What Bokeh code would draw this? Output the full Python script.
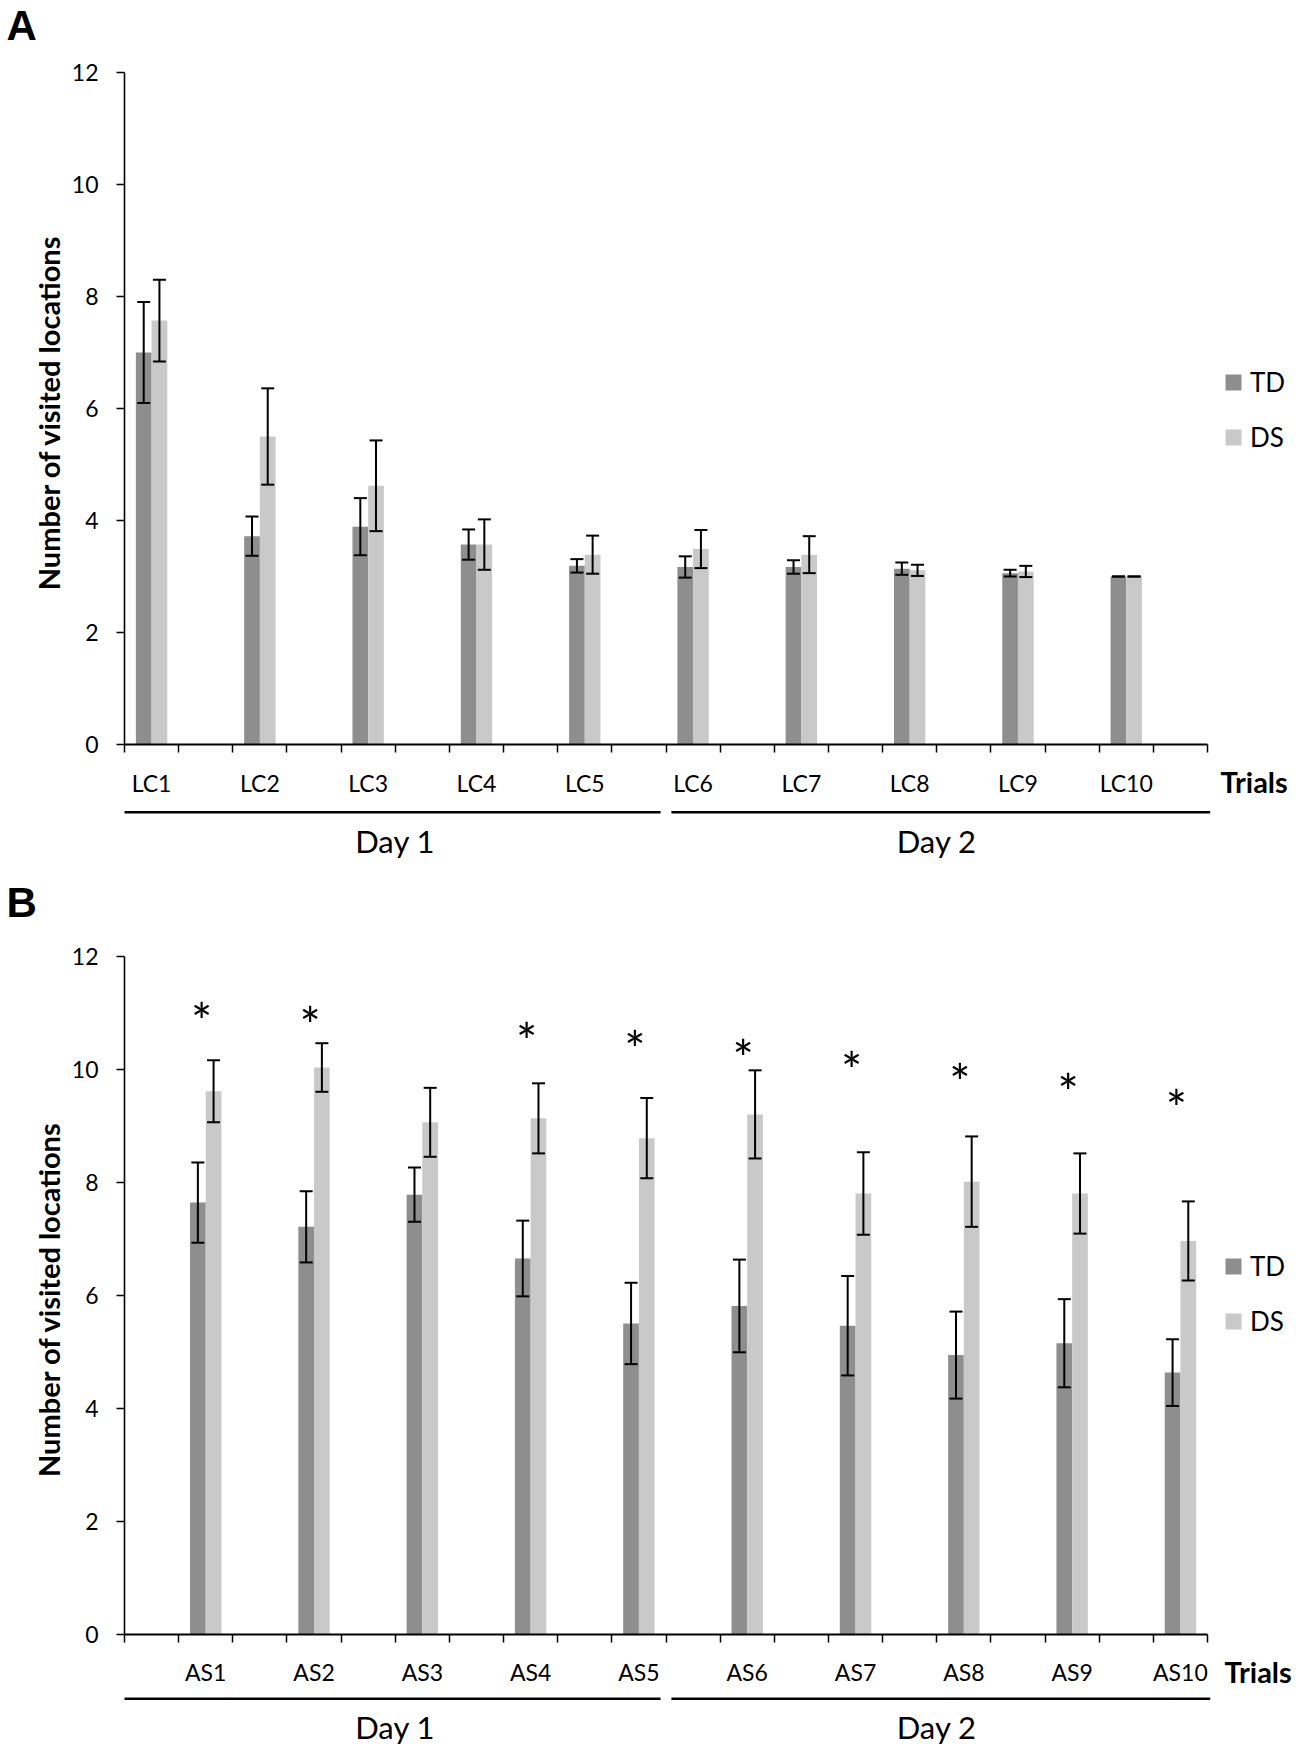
import math
from bokeh.plotting import figure
from bokeh.models import (Range1d, FixedTicker, Whisker, TeeHead, ColumnDataSource,
                          Label, Arrow, Legend, LegendItem)
from bokeh.layouts import column
from bokeh.embed import file_html
from bokeh.resources import INLINE
from bokeh.core.properties import value

# ---------------- data ----------------
series = ["TD", "DS"]
days = ["Day 1", "Day 2"]
trials_per_day = [5, 5]

lc_trials = ["LC1", "LC2", "LC3", "LC4", "LC5", "LC6", "LC7", "LC8", "LC9", "LC10"]
lc_td = [7.00, 3.72, 3.89, 3.57, 3.19, 3.17, 3.17, 3.14, 3.06, 3.00]
lc_td_err = [0.90, 0.35, 0.51, 0.27, 0.12, 0.19, 0.12, 0.11, 0.06, 0.00]
lc_ds = [7.57, 5.50, 4.62, 3.57, 3.39, 3.49, 3.39, 3.11, 3.09, 3.00]
lc_ds_err = [0.73, 0.86, 0.81, 0.45, 0.34, 0.34, 0.33, 0.10, 0.10, 0.00]

as_trials = ["AS1", "AS2", "AS3", "AS4", "AS5", "AS6", "AS7", "AS8", "AS9", "AS10"]
as_td = [7.64, 7.21, 7.78, 6.65, 5.50, 5.81, 5.46, 4.94, 5.15, 4.63]
as_td_err = [0.71, 0.63, 0.48, 0.67, 0.72, 0.82, 0.88, 0.77, 0.78, 0.59]
as_ds = [9.61, 10.03, 9.06, 9.13, 8.78, 9.20, 7.80, 8.01, 7.80, 6.96]
as_ds_err = [0.55, 0.43, 0.61, 0.62, 0.71, 0.78, 0.73, 0.80, 0.71, 0.70]
as_sig = ["*", "*", "", "*", "*", "*", "*", "*", "*", "*"]
as_star_y = [11.04, 10.97, None, 10.70, 10.55, 10.39, 10.18, 9.97, 9.80, 9.50]

y_ticks = [0, 2, 4, 6, 8, 10, 12]
y_max = 12

# ---------------- style / geometry (pixels) ----------------
TD_COLOR = "#8e8e8e"
DS_COLOR = "#c9c9c9"
FONT = "Lato"
W = 1306
AXIS_X = 124        # page x of the value axis
SLOT_PX = 54.15     # width of one category slot


def make_panel(letter, trials, td, td_err, ds, ds_err, first_slot, height, zero_px, unit_px,
               trials_left_px, trials_mid_px, day_line_px, day_mid_px, letter_mid_px,
               legend_bottom_px, stars=None, star_y=None):
    n = len(trials)
    nslots = 2 * n

    # screen <-> data helpers (the frame covers the whole figure)
    def dx(px):
        return (px - AXIS_X) / SLOT_PX

    def dy(py):
        return (zero_px - py) / unit_px

    p = figure(width=W, height=height,
               x_range=Range1d(dx(0), dx(W)), y_range=Range1d(dy(height), dy(0)),
               output_backend="svg", toolbar_location=None, min_border=0)
    p.outline_line_color = None
    p.xgrid.visible = False
    p.ygrid.visible = False
    p.background_fill_color = "white"
    p.border_fill_color = "white"

    centers = [2 * i + first_slot + 0.5 for i in range(n)]
    bw = 0.29
    x_td = [c - bw / 2 for c in centers]
    x_ds = [c + bw / 2 for c in centers]

    r_td = p.vbar(x=x_td, top=td, bottom=0, width=bw, fill_color=TD_COLOR, line_color=None)
    r_ds = p.vbar(x=x_ds, top=ds, bottom=0, width=bw, fill_color=DS_COLOR, line_color=None)

    for xs, vals, errs in ((x_td, td, td_err), (x_ds, ds, ds_err)):
        src = ColumnDataSource(dict(base=xs,
                                    lower=[v - e for v, e in zip(vals, errs)],
                                    upper=[v + e for v, e in zip(vals, errs)]))
        w = Whisker(source=src, base="base", lower="lower", upper="upper", dimension="height",
                    line_color="black", line_width=2, level="overlay",
                    upper_head=TeeHead(size=13, line_color="black", line_width=2),
                    lower_head=TeeHead(size=13, line_color="black", line_width=2))
        p.add_layout(w)

    if stars is not None:
        sx = [c for c, s in zip(centers, stars) if s]
        sy = [y for y, s in zip(star_y, stars) if s]
        st = [s for s in stars if s]
        p.text(x=sx, y=sy, text=st, text_font=value(FONT), text_font_size="50px",
               text_align="center", text_baseline="middle", x_offset=-4, y_offset=11,
               text_color="black")

    # category axis: labels at category centres, tick marks at slot boundaries
    xax = p.xaxis[0]
    xax.fixed_location = 0
    xax.bounds = (0, nslots)
    xax.ticker = FixedTicker(ticks=centers, minor_ticks=list(range(0, nslots + 1)))
    xax.major_label_overrides = {c: t for c, t in zip(centers, trials)}
    xax.major_tick_line_color = None
    xax.major_tick_in = 0
    xax.major_tick_out = 0
    xax.minor_tick_in = 0
    xax.minor_tick_out = 8
    xax.minor_tick_line_color = "black"
    xax.minor_tick_line_width = 1.5
    xax.axis_line_color = "black"
    xax.axis_line_width = 2
    xax.major_label_text_font = FONT
    xax.major_label_text_font_size = "23px"
    xax.major_label_text_color = "black"
    xax.major_label_standoff = 16

    # value axis
    yax = p.yaxis[0]
    yax.fixed_location = 0
    yax.bounds = (0, y_max)
    yax.ticker = FixedTicker(ticks=y_ticks, minor_ticks=[])
    yax.major_tick_in = 0
    yax.major_tick_out = 8
    yax.major_tick_line_color = "black"
    yax.major_tick_line_width = 1.5
    yax.minor_tick_line_color = None
    yax.axis_line_color = "black"
    yax.axis_line_width = 1.6
    yax.major_label_text_font = FONT
    yax.major_label_text_font_size = "23px"
    yax.major_label_text_color = "black"
    yax.major_label_standoff = 18

    # value-axis title
    p.add_layout(Label(x=dx(48), y=y_max / 2, y_offset=-4, angle=math.pi / 2,
                       text="Number of visited locations", text_font=FONT,
                       text_font_style="bold", text_font_size="29px", text_align="center",
                       text_baseline="middle", text_color="black"))

    # legend on the right
    legend = Legend(items=[LegendItem(label=series[0], renderers=[r_td]),
                           LegendItem(label=series[1], renderers=[r_ds])],
                    location=(1223, height - legend_bottom_px), glyph_width=20, glyph_height=20,
                    label_height=20, label_standoff=7, spacing=23, padding=0, margin=0,
                    border_line_color=None, background_fill_alpha=0,
                    label_text_font=FONT, label_text_font_size="26px",
                    label_text_color="black")
    p.add_layout(legend)

    # "Trials" caption
    p.add_layout(Label(x=dx(trials_left_px), y=dy(trials_mid_px), text="Trials", text_font=FONT,
                       text_font_style="bold", text_font_size="29px", text_align="left",
                       text_baseline="middle", text_color="black"))

    # day grouping lines and captions
    start = 0
    for d, cnt in zip(days, trials_per_day):
        s0 = start
        s1 = start + 2 * cnt
        x0 = s0 + (0.1 if s0 > 0 else 0.0)
        x1 = s1 - (0.1 if s1 < nslots else -0.05)
        p.add_layout(Arrow(x_start=x0, y_start=dy(day_line_px), x_end=x1, y_end=dy(day_line_px),
                           end=None, line_color="black", line_width=2.5))
        p.add_layout(Label(x=(s0 + s1) / 2, y=dy(day_mid_px), text=d, text_font=FONT,
                           text_font_size="31px", text_align="center",
                           text_baseline="middle", text_color="black"))
        start = s1

    # panel letter
    p.add_layout(Label(x=dx(6), y=dy(letter_mid_px), text=letter, text_font="Liberation Sans",
                       text_font_style="bold", text_font_size="42px", text_align="left",
                       text_baseline="middle", text_color="black"))
    return p


# panel A occupies page y 0..880, panel B page y 880..1754 (coordinates within each figure)
pA = make_panel("A", lc_trials, lc_td, lc_td_err, lc_ds, lc_ds_err, first_slot=0,
                height=880, zero_px=744, unit_px=56.0,
                trials_left_px=1220, trials_mid_px=781, day_line_px=811.7, day_mid_px=840,
                letter_mid_px=25, legend_bottom_px=452.5)

pB = make_panel("B", as_trials, as_td, as_td_err, as_ds, as_ds_err, first_slot=1,
                height=874, zero_px=753.7, unit_px=56.5,
                trials_left_px=1224, trials_mid_px=790.5, day_line_px=818.3, day_mid_px=846.5,
                letter_mid_px=21.5, legend_bottom_px=456.5, stars=as_sig, star_y=as_star_y)

layout = column(pA, pB, spacing=0)
open("out.html", "w").write(file_html(layout, INLINE))
